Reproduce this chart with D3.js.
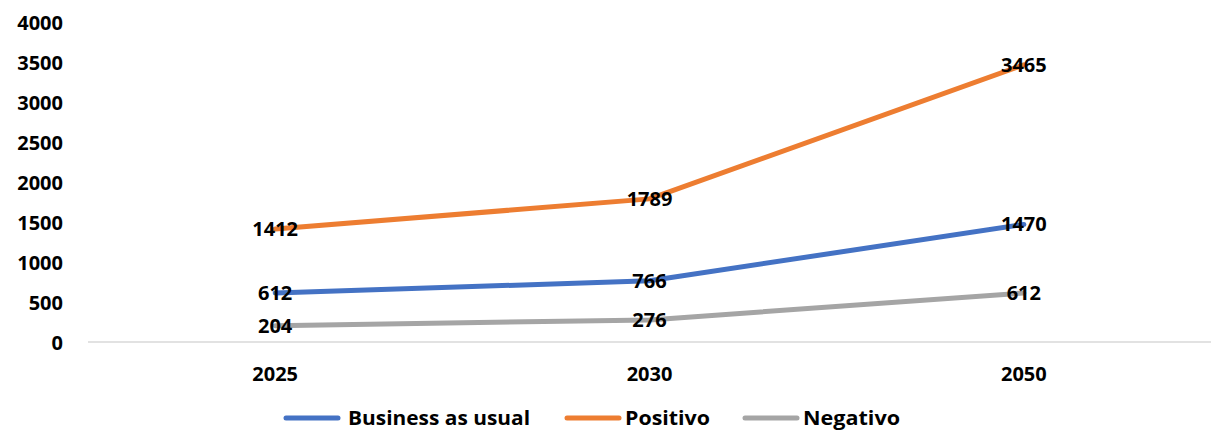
<!DOCTYPE html>
<html>
<head>
<meta charset="utf-8">
<script src="https://cdn.jsdelivr.net/npm/d3@7"></script>
<style>
  html, body { margin: 0; padding: 0; background: #fff; }
  svg { display: block; font-family: "Open Sans", "Noto Sans", sans-serif; }
</style>
</head>
<body>
<svg id="chart" width="1211" height="431"></svg>
<script>
// Scenario projections per year
const years = ["2025", "2030", "2050"];
const businessAsUsual = [612, 766, 1470];
const positivo = [1412, 1789, 3465];
const negativo = [204, 276, 612];
const yTicks = [0, 500, 1000, 1500, 2000, 2500, 3000, 3500, 4000];

const series = [
  { name: "Business as usual", values: businessAsUsual, color: "#4472C4" },
  { name: "Positivo", values: positivo, color: "#ED7D31" },
  { name: "Negativo", values: negativo, color: "#A5A5A5" }
];

const svg = d3.select("#chart");
const plot = { left: 88, right: 1211, top: 22, bottom: 342 };
const FONT = 20;

const x = d3.scaleBand().domain(years).range([plot.left, plot.right]);
const y = d3.scaleLinear().domain([0, 4000]).range([plot.bottom, plot.top]);
const cx = d => x(d) + x.bandwidth() / 2;

// Baseline
svg.append("line")
  .attr("x1", plot.left).attr("x2", plot.right)
  .attr("y1", y(0)).attr("y2", y(0))
  .attr("stroke", "#d9d9d9").attr("stroke-width", 1.5);

// Y axis labels
const yAxis = d3.axisLeft(y).tickValues(yTicks).tickFormat(d3.format("d"))
  .tickSize(0).tickPadding(0);
const yg = svg.append("g").attr("transform", "translate(63,0)").call(yAxis);
yg.select(".domain").remove();
yg.selectAll("text")
  .attr("font-family", "'Open Sans', sans-serif")
  .attr("font-weight", "bold").attr("font-size", FONT).attr("fill", "#000")
  .attr("dy", "0.35em");

// X axis labels
const xAxis = d3.axisBottom(x).tickSize(0).tickPadding(0);
const xg = svg.append("g").attr("transform", "translate(0,374)").call(xAxis);
xg.select(".domain").remove();
xg.selectAll("text")
  .attr("font-family", "'Open Sans', sans-serif")
  .attr("font-weight", "bold").attr("font-size", FONT).attr("fill", "#000")
  .attr("y", 0).attr("dy", "0.35em");

// Series lines
const line = d3.line()
  .x((d, i) => cx(years[i]))
  .y(d => y(d));

svg.append("g").selectAll("path").data(series).join("path")
  .attr("d", s => line(s.values))
  .attr("fill", "none")
  .attr("stroke", s => s.color)
  .attr("stroke-width", 5)
  .attr("stroke-linejoin", "round")
  .attr("stroke-linecap", "round");

// Value labels centered on each point
series.forEach(s => {
  svg.append("g").selectAll("text").data(s.values).join("text")
    .attr("x", (d, i) => cx(years[i]))
    .attr("y", d => y(d))
    .attr("dy", "0.35em")
    .attr("text-anchor", "middle")
    .attr("font-weight", "bold").attr("font-size", FONT).attr("fill", "#000")
    .text(d => d);
});

// Legend
const legendItems = [
  { s: series[0], lx: 284, tx: 348, w: 182 },
  { s: series[1], lx: 565, tx: 625, w: 85 },
  { s: series[2], lx: 743, tx: 803, w: 97 }
];
const lg = svg.append("g");
legendItems.forEach(it => {
  lg.append("line")
    .attr("x1", it.lx + 2).attr("x2", it.lx + 54)
    .attr("y1", 418).attr("y2", 418)
    .attr("stroke", it.s.color).attr("stroke-width", 5)
    .attr("stroke-linecap", "round");
  lg.append("text")
    .attr("x", it.tx).attr("y", 418).attr("dy", "0.35em")
    .attr("font-weight", "bold").attr("font-size", FONT).attr("fill", "#000")
    .attr("textLength", it.w).attr("lengthAdjust", "spacingAndGlyphs")
    .text(it.s.name);
});
</script>
</body>
</html>
